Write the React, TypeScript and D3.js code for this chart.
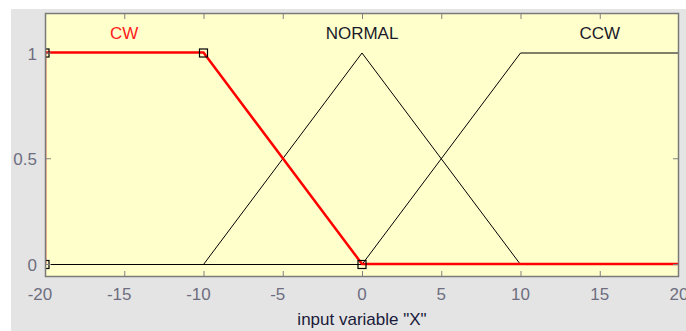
import React, { useRef, useEffect } from "react";
import * as d3 from "d3";

// membership functions of input "X"
const mfNames = ["CW", "NORMAL", "CCW"];
const mfCenters = [-15, 0, 15];
const cwX = [-20, -20, -10, 0, 20];
const cwY = [0, 1, 1, 0, 0];
const normalX = [-20, -10, 0, 10, 20];
const normalY = [0, 0, 1, 0, 0];
const ccwX = [-20, 0, 10, 20];
const ccwY = [0, 0, 1, 1];
// parameter points of the selected MF (CW)
const cwParamX = [-20, -20, -10, 0];
const cwParamY = [0, 1, 1, 0];
const xTicks = [-20, -15, -10, -5, 0, 5, 10, 15, 20];
const yTicks = [0, 0.5, 1];
const xLabel = 'input variable "X"';

const App = () => {
  const ref = useRef<SVGSVGElement>(null);

  useEffect(() => {
    const svg = d3.select(ref.current);
    svg.selectAll("*").remove();

    const left = 45, right = 679, top = 13, bottom = 277;
    const x = d3.scaleLinear().domain([-20, 20]).range([left, right]);
    const y = d3.scaleLinear().domain([0, 1]).range([264.5, 53]);

    svg.append("rect").attr("width", 686).attr("height", 331).attr("fill", "#fff");
    svg.append("rect").attr("x", 11).attr("y", 9).attr("width", 675).attr("height", 322).attr("fill", "#e4e4e4");

    svg.append("clipPath").attr("id", "plotclip")
      .append("rect").attr("x", left).attr("y", top).attr("width", right - left).attr("height", bottom - top);

    svg.append("rect")
      .attr("x", left).attr("y", top)
      .attr("width", right - left).attr("height", bottom - top)
      .attr("fill", "#ffffcc");

    const plot = svg.append("g").attr("clip-path", "url(#plotclip)");
    const line = d3.line<[number, number]>().x((d) => x(d[0])).y((d) => y(d[1]));

    [[normalX, normalY], [ccwX, ccwY]].forEach(([xs, ys]) => {
      plot.append("path")
        .attr("d", line(xs.map((v, i) => [v, ys[i]] as [number, number])))
        .attr("fill", "none").attr("stroke", "#000").attr("stroke-width", 1);
    });

    plot.append("path")
      .attr("d", line(cwX.map((v, i) => [v, cwY[i]] as [number, number])))
      .attr("transform", "translate(0,-0.5)")
      .attr("fill", "none").attr("stroke", "#ff0000").attr("stroke-width", 2.5);

    plot.selectAll(".marker")
      .data(cwParamX.map((v, i) => [v, cwParamY[i]]))
      .enter().append("rect")
      .attr("x", (d) => x(d[0]) - 4).attr("y", (d) => y(d[1]) - 4)
      .attr("width", 8).attr("height", 8)
      .attr("fill", "none").attr("stroke", "#000").attr("stroke-width", 1.2);

    // ticks, inward on all sides
    const tc = "#808080";
    xTicks.slice(1, -1).forEach((t) => {
      svg.append("line").attr("x1", x(t) + 0.5).attr("x2", x(t) + 0.5)
        .attr("y1", bottom).attr("y2", bottom - 6).attr("stroke", tc);
      svg.append("line").attr("x1", x(t) + 0.5).attr("x2", x(t) + 0.5)
        .attr("y1", top).attr("y2", top + 6).attr("stroke", tc);
    });
    yTicks.forEach((t) => {
      svg.append("line").attr("x1", left).attr("x2", left + 6)
        .attr("y1", y(t)).attr("y2", y(t)).attr("stroke", tc);
      svg.append("line").attr("x1", right).attr("x2", right - 6)
        .attr("y1", y(t)).attr("y2", y(t)).attr("stroke", tc);
    });

    svg.append("rect")
      .attr("x", left + 0.5).attr("y", top + 0.5)
      .attr("width", right - left - 1).attr("height", bottom - top - 1)
      .attr("fill", "none").attr("stroke", "#7a7a7a").attr("stroke-width", 1.5);

    const font = "'Liberation Sans', Arial, sans-serif";
    const fs = 17;
    // negative labels: digits centred on the tick, minus sign hangs left
    svg.selectAll(".xt").data(xTicks).enter().append("text")
      .attr("x", (d) => x(d) - (d < 0 ? 5 : 0)).attr("y", 300)
      .attr("text-anchor", "middle").attr("font-family", font).attr("font-size", fs)
      .attr("fill", "#6e6e80").text((d) => d);

    svg.selectAll(".yt").data(yTicks).enter().append("text")
      .attr("x", 37).attr("y", (d) => y(d) + 6.5)
      .attr("text-anchor", "end").attr("font-family", font).attr("font-size", fs)
      .attr("fill", "#6e6e80").text((d) => d);

    svg.selectAll(".mf").data(mfNames).enter().append("text")
      .attr("x", (d, i) => x(mfCenters[i])).attr("y", 39)
      .attr("text-anchor", "middle").attr("font-family", font).attr("font-size", fs)
      .attr("fill", (d, i) => (i === 0 ? "#ff2020" : "#1a1a2a")).text((d) => d);

    svg.append("text")
      .attr("x", x(0)).attr("y", 325)
      .attr("text-anchor", "middle").attr("font-family", font).attr("font-size", fs)
      .attr("fill", "#1a1a3a").text(xLabel);
  }, []);

  return (
    <svg ref={ref} width={686} height={331}
      style={{ position: "absolute", left: 0, top: 0, display: "block" }} />
  );
};

export default App;
